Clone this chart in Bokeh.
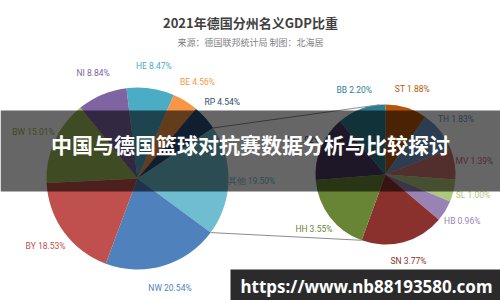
import numpy as np
from bokeh.plotting import figure
from bokeh.models import Range1d, BoxAnnotation, Label, ColumnDataSource
from bokeh.core.properties import value
from bokeh.embed import file_html
from bokeh.resources import INLINE

# ---- data ----
main_names = ["HE", "BE", "RP", "其他", "NW", "BY", "BW", "NI"]
main_vals = [8.47, 4.56, 4.54, 19.50, 20.54, 18.53, 15.01, 8.84]
main_colors = ["#4bacc6", "#f79646", "#2c4d75", "#6fbdd1", "#4f81bd", "#c0504d", "#9bbb59", "#8064a2"]

sub_names = ["ST", "TH", "MV", "SL", "HB", "SN", "HH", "SH", "BB"]
sub_vals = [1.88, 1.83, 1.39, 1.00, 0.96, 3.77, 3.55, 2.92, 2.20]
sub_colors = ["#b65708", "#729aca", "#cd7371", "#afc97a", "#9983b5", "#8a302d", "#688536", "#4d3b62", "#2d7d92"]

title_text = "2021年德国分州名义GDP比重"
subtitle_text = "来源：德国联邦统计局 制图：北海居"
banner_text = "中国与德国篮球对抗赛数据分析与比较探讨"
watermark_text = "https://www.nb88193580.com"

W, H = 500, 300
p = figure(width=W, height=H, output_backend="svg", toolbar_location=None,
           x_range=Range1d(0, W), y_range=Range1d(0, H), min_border=0)
p.axis.visible = False
p.grid.visible = False
p.outline_line_color = None
p.background_fill_color = "white"
p.border_fill_color = "white"

LAB_FONT = value("Roboto")


def pie(cx, cy, r, names, vals, colors, start_deg, lab_dist):
    vals = np.array(vals, dtype=float)
    cum = np.concatenate([[0], np.cumsum(vals)]) / vals.sum() * 2 * np.pi + np.radians(start_deg)
    t1, t2 = cum[:-1], cum[1:]
    src = ColumnDataSource(dict(start=np.pi / 2 - t2, end=np.pi / 2 - t1, color=colors))
    p.wedge(x=cx, y=H - cy, radius=r, start_angle="start", end_angle="end",
            fill_color="color", line_color=None, source=src)
    mid = (t1 + t2) / 2
    lx = cx + lab_dist * np.sin(mid)
    ly = (H - cy) + lab_dist * np.cos(mid)
    labels = [f"{n} {v:.2f}%" for n, v in zip(names, vals)]
    p.text(x=lx, y=ly, text=labels, text_color=colors, text_font=LAB_FONT,
           text_font_size="8.5px", text_align="center", text_baseline="middle")
    return t1, t2


LCX, LCY, LR = 137, 178, 91
RCX, RCY, RR = 385, 174, 70
lt1, lt2 = pie(LCX, LCY, LR, main_names, main_vals, main_colors, -7, 114)
rt1, rt2 = pie(RCX, RCY, RR, sub_names, sub_vals, sub_colors, 0, 90)

# connector lines between the "其他" slice and the secondary pie
oi = main_names.index("其他")
a_top, a_bot = lt1[oi], lt2[oi]
b_top, b_bot = np.radians(-5), np.radians(200)
p.line([LCX + LR * np.sin(a_top), RCX + RR * np.sin(b_top)],
       [H - LCY + LR * np.cos(a_top), H - RCY + RR * np.cos(b_top)], line_color="#8c8c8c", line_width=1)
p.line([LCX + LR * np.sin(a_bot), RCX + RR * np.sin(b_bot)],
       [H - LCY + LR * np.cos(a_bot), H - RCY + RR * np.cos(b_bot)], line_color="#8c8c8c", line_width=1)

# titles
p.add_layout(Label(x=250, y=H - 22, text=title_text, text_align="center", text_baseline="middle",
                   text_font="Noto Sans CJK SC", text_font_style="bold", text_font_size="13px",
                   text_color="#404040"))
p.add_layout(Label(x=250, y=H - 42, text=subtitle_text, text_align="center", text_baseline="middle",
                   text_font="Noto Sans CJK SC", text_font_size="9px", text_color="#808080"))

# banner overlay
p.add_layout(BoxAnnotation(left=0, right=W, bottom=H - 191, top=H - 110,
                           fill_color="black", fill_alpha=0.6, line_color=None))
p.add_layout(Label(x=250, y=H - 143, text=banner_text, text_align="center", text_baseline="middle",
                   text_font="Noto Sans CJK SC", text_font_style="bold", text_font_size="21px",
                   text_color="white"))

# watermark box
p.add_layout(BoxAnnotation(left=230, right=W, bottom=0, top=H - 269,
                           fill_color="#222222", fill_alpha=0.96, line_color=None))
p.add_layout(Label(x=366, y=H - 286, text=watermark_text, text_align="center", text_baseline="middle",
                   text_font="Noto Sans", text_font_style="bold", text_font_size="17px",
                   text_color="white"))

open("out.html", "w").write(file_html(p, INLINE))
